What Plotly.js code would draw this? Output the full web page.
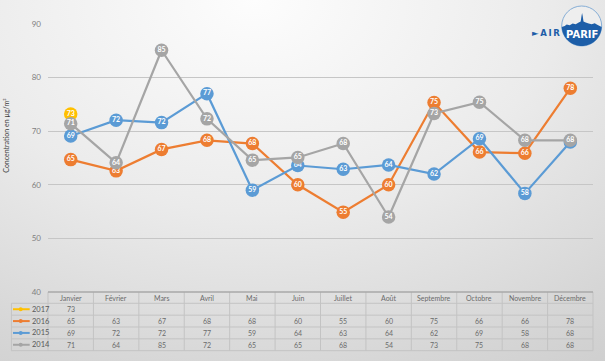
<!DOCTYPE html>
<html><head><meta charset="utf-8">
<script src="https://cdn.plot.ly/plotly-3.0.1.min.js"></script>
<style>
html,body{margin:0;padding:0;}
body{width:605px;height:361px;overflow:hidden;
background:radial-gradient(ellipse 110% 130% at 42% 0%, #fdfdfd 0%, #ebebeb 45%, #d6d6d6 80%, #cccccc 100%);}
#chart{width:605px;height:361px;}
</style></head><body>
<div id="chart"></div>
<script>
const months = ['Janvier','Février','Mars','Avril','Mai','Juin','Juillet','Août','Septembre','Octobre','Novembre','Décembre'];
const years = ['2017','2016','2015','2014'];
const y2017 = [73.2,null,null,null,null,null,null,null,null,null,null,null];
const y2016 = [64.7,62.6,66.6,68.3,67.7,60.0,54.9,60.0,75.35,66.1,65.9,78.0];
const y2015 = [69.1,72.05,71.6,77.0,59.0,63.6,62.9,63.7,62.0,68.6,58.4,68.0];
const y2014 = [71.4,64.1,85.1,72.3,64.6,65.1,67.7,54.0,73.3,75.4,68.3,68.3];
const colors = ['#FFC000','#ED7D31','#5B9BD5','#A5A5A5'];
const series = [y2017,y2016,y2015,y2014];

// geometry helpers (pixel -> paper)
const L=48.3, R=593.3, T=24, B=292;
const W=605, H=361;
const px = x => (x-L)/(R-L);
const py = y => (B-y)/(B-T);
const FONT = 'Lato, "Open Sans", sans-serif';

const traces = series.map((s,i)=>({
  x: months, y: s, type:'scatter', mode:'lines+markers+text',
  name: years[i], showlegend:false,
  line:{color:colors[i], width:2.2},
  marker:{color:colors[i], size:13.5},
  texttemplate:'%{y:.0f}', textposition:'middle center',
  textfont:{color:'#ffffff', size:7, family:FONT, weight:700},
  cliponaxis:false, hoverinfo:'skip'
}));

const shapes = [];
const annotations = [];

// table geometry
const colW = (R-L)/12;
const headTop = 292, rowTop = 303.3, rowH = 11.85;
const tableBottom = rowTop + 4*rowH;
const gridCol = '#c3c3c3';
// horizontal lines
for (let r=0;r<=4;r++){
  const y = rowTop + r*rowH;
  shapes.push({type:'line', xref:'paper', yref:'paper', x0:px(11.7), x1:px(R), y0:py(y), y1:py(y), line:{color:gridCol, width:1}});
}
// vertical lines
for (let c=0;c<=12;c++){
  const x = L + c*colW;
  shapes.push({type:'line', xref:'paper', yref:'paper', x0:px(x), x1:px(x), y0:py(headTop), y1:py(tableBottom), line:{color:gridCol, width:1}});
}
shapes.push({type:'line', xref:'paper', yref:'paper', x0:px(11.7), x1:px(11.7), y0:py(rowTop), y1:py(tableBottom), line:{color:gridCol, width:1}});
// top border of table (axis line)
shapes.push({type:'line', xref:'paper', yref:'paper', x0:px(L), x1:px(R), y0:py(292), y1:py(292), line:{color:'#a8a8a8', width:1.6}});

// header
months.forEach((m,i)=>{
  annotations.push({x:i, xref:'x', y:py(297.6), yref:'paper', text:m, showarrow:false,
    font:{size:7, color:'#6b6b6b', family:FONT}, xanchor:'center', yanchor:'middle'});
});
// rows
series.forEach((s,r)=>{
  const yc = rowTop + (r+0.5)*rowH;
  s.forEach((v,i)=>{
    if (v===null) return;
    annotations.push({x:i, xref:'x', y:py(yc), yref:'paper', text:String(Math.round(v)), showarrow:false,
      font:{size:7, color:'#6b6b6b', family:FONT}, xanchor:'center', yanchor:'middle'});
  });
  // legend key
  shapes.push({type:'line', xref:'paper', yref:'paper', x0:px(13.3), x1:px(30), y0:py(yc), y1:py(yc), line:{color:colors[r], width:2}});
  shapes.push({type:'circle', xref:'paper', yref:'paper', x0:px(19), x1:px(23), y0:py(yc+2), y1:py(yc-2), fillcolor:colors[r], line:{width:0}});
  annotations.push({x:px(30.5), xref:'paper', y:py(yc), yref:'paper', text:years[r], showarrow:false,
    font:{size:7.5, color:'#595959', family:FONT}, xanchor:'left', yanchor:'middle'});
});

// y axis title
annotations.push({x:px(6), xref:'paper', y:py(135), yref:'paper', text:'Concentration en µg/m³', textangle:-90,
  showarrow:false, font:{size:7, color:'#404040', family:FONT}, xanchor:'center', yanchor:'middle'});

// AIRPARIF logo
const cx=582, cy=26, cr=20;
shapes.push({type:'circle', xref:'paper', yref:'paper', x0:px(cx-cr), x1:px(cx+cr), y0:py(cy+cr), y1:py(cy-cr),
  fillcolor:'#eeeeee', line:{color:'#86aed6', width:1}});
const sky = [[562,27],[565,26],[567,24.5],[570,25.2],[573,23.6],[576,24.3],[579,22.5],[581,21.5],[581.8,16],[582.4,13],[583,16],[583.8,21.5],[586,22.5],[589,23.5],[592,24.3],[595,23.2],[598,25],[602,27]];
let d = 'M' + sky.map(p=>px(p[0])+','+py(p[1])).join(' L');
const a0 = Math.asin((27-cy)/cr);
for (let k=0;k<=40;k++){
  const a = a0 + (Math.PI-2*a0)*k/40;
  const x = cx + cr*Math.cos(a), y = cy + cr*Math.sin(a);
  d += ' L' + px(x) + ',' + py(y);
}
d += ' Z';
shapes.push({type:'path', xref:'paper', yref:'paper', path:d, fillcolor:'#1d5ea8', line:{width:0}});
annotations.push({x:px(582.5), xref:'paper', y:py(34), yref:'paper', text:'<b>PARIF</b>', showarrow:false,
  font:{size:10, color:'#ffffff', family:'"DejaVu Sans", sans-serif'}, xanchor:'center', yanchor:'middle'});
annotations.push({x:px(562), xref:'paper', y:py(33.5), yref:'paper', text:'<b>►\u2009A\u2009I\u2009R</b>', showarrow:false,
  font:{size:8.5, color:'#1d5ea8', family:'"DejaVu Sans", sans-serif'}, xanchor:'right', yanchor:'middle'});

const layout = {
  width:W, height:H,
  margin:{l:L, r:W-R, t:T, b:H-B, pad:0},
  paper_bgcolor:'rgba(0,0,0,0)', plot_bgcolor:'rgba(0,0,0,0)',
  xaxis:{type:'category', range:[-0.5,11.5], showticklabels:false, showgrid:false, zeroline:false, showline:false, ticks:''},
  yaxis:{range:[40,90], dtick:10, showgrid:true, gridcolor:'#c6c6c6', gridwidth:1.3, zeroline:false, showline:false,
    ticks:'', tickfont:{size:8, color:'#7f7f7f', family:FONT}, ticklabelstandoff:6},
  shapes:shapes, annotations:annotations, showlegend:false
};
Plotly.newPlot('chart', traces, layout, {staticPlot:true, displayModeBar:false});
</script>
</body></html>
